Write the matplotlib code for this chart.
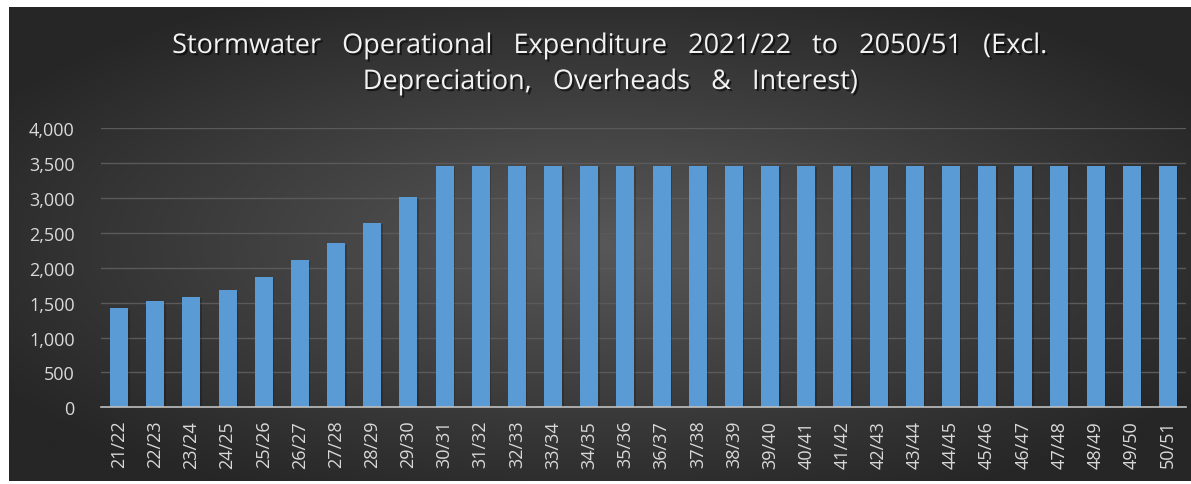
import numpy as np
import matplotlib
matplotlib.use("Agg")
import matplotlib.pyplot as plt
import matplotlib.patheffects as pe

years = ["21/22", "22/23", "23/24", "24/25", "25/26", "26/27", "27/28", "28/29", "29/30",
         "30/31", "31/32", "32/33", "33/34", "34/35", "35/36", "36/37", "37/38", "38/39",
         "39/40", "40/41", "41/42", "42/43", "43/44", "44/45", "45/46", "46/47", "47/48",
         "48/49", "49/50", "50/51"]
early_values = [1420, 1525, 1580, 1685, 1875, 2110, 2350, 2645, 3020]
plateau_values = [3460] * 21
values = early_values + plateau_values
y_ticks = [0, 500, 1000, 1500, 2000, 2500, 3000, 3500, 4000]
title_line1 = "Stormwater   Operational   Expenditure   2021/22   to   2050/51   (Excl."
title_line2 = "Depreciation,   Overheads   &   Interest)"

W, H = 1191, 485
fig = plt.figure(figsize=(W / 100, H / 100), dpi=100)
fig.patch.set_facecolor("white")

# dark radial gradient background panel
x0, y0, x1, y1 = 9, 8, 1191, 482
bg = fig.add_axes([x0 / W, 1 - y1 / H, (x1 - x0) / W, (y1 - y0) / H])
gx = np.linspace(-1, 1, 400)
gy = np.linspace(-1, 1, 200)
XX, YY = np.meshgrid(gx, gy)
R = np.sqrt(XX ** 2 + (YY * 1.0) ** 2)
R = np.clip(R / 1.2, 0, 1)
c_center = np.array([0x58, 0x58, 0x58]) / 255
c_edge = np.array([0x26, 0x26, 0x26]) / 255
img = c_center[None, None, :] * (1 - R[..., None]) + c_edge[None, None, :] * R[..., None]
bg.imshow(img, aspect="auto", extent=[0, 1, 0, 1], interpolation="bilinear")
bg.set_axis_off()

ax = fig.add_axes([101 / W, 1 - 408.3 / H, (1186 - 101) / W, (408.3 - 129.3) / H])
ax.set_facecolor("none")
x = np.arange(len(years))
bars = ax.bar(x, values, width=0.5, color="#5B9BD5", zorder=3)
for b in bars:
    b.set_path_effects([pe.SimplePatchShadow(offset=(1, -1), shadow_rgbFace="black", alpha=0.2), pe.Normal()])

ax.set_xlim(-0.5, len(years) - 0.5)
ax.set_ylim(0, 4000)
ax.set_yticks(y_ticks)
ax.set_yticklabels([f"{v:,}" for v in y_ticks])
ax.set_xticks(x)
ax.set_xticklabels(years, rotation=90)
ax.grid(axis="y", color="#5a5a5a", linewidth=1, zorder=0)
ax.set_axisbelow(True)
for s in ["top", "right", "left"]:
    ax.spines[s].set_visible(False)
ax.spines["bottom"].set_color("#bfbfbf")
ax.spines["bottom"].set_linewidth(1.2)
ax.spines["bottom"].set_zorder(4)
ax.tick_params(axis="both", length=0, colors="#d9d9d9", labelsize=13)
ax.tick_params(axis="y", pad=19)
ax.tick_params(axis="x", pad=9)
for lbl in ax.get_yticklabels() + ax.get_xticklabels():
    lbl.set_fontfamily("Open Sans")
    lbl.set_color("#d9d9d9")

shadow = [pe.withSimplePatchShadow(offset=(1.5, -1.5), shadow_rgbFace="black", alpha=0.6)]
fig.text(611 / W, 1 - 54 / H, title_line1, ha="center", va="baseline", fontsize=19.5,
         color="#f2f2f2", family="Open Sans", path_effects=shadow)
fig.text(611 / W, 1 - 90 / H, title_line2, ha="center", va="baseline", fontsize=19.5,
         color="#f2f2f2", family="Open Sans", path_effects=shadow)

fig.savefig("out.png", dpi=100, facecolor="white")
